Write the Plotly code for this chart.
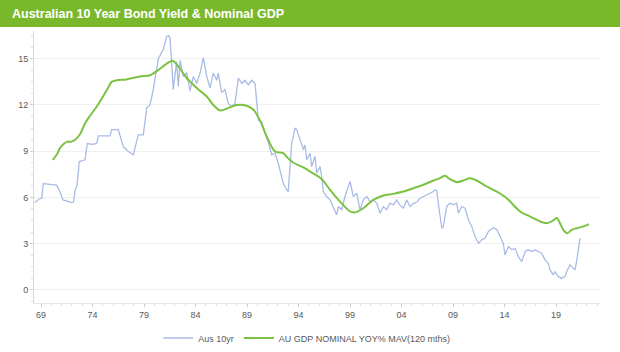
import plotly.graph_objects as go

# Aus 10yr bond yield (decimal year, %)
bond_year = [1968.42, 1968.81, 1969.07, 1969.22, 1969.87, 1970.52, 1970.75, 1971.01, 1971.14, 1971.62,
             1971.98, 1972.14, 1972.30, 1972.50, 1972.72, 1973.27, 1973.50, 1973.95, 1974.41, 1974.56,
             1975.70, 1975.86, 1976.50, 1976.77, 1976.99, 1977.45, 1977.81, 1977.96, 1978.45, 1978.93,
             1979.26, 1979.58, 1979.90, 1980.39, 1980.87, 1981.20, 1981.38, 1981.52, 1981.69, 1981.84,
             1982.17, 1982.33, 1982.50, 1982.82, 1983.15, 1983.47, 1983.79, 1984.12, 1984.44, 1984.76,
             1985.09, 1985.41, 1985.73, 1986.06, 1986.21, 1986.54, 1986.86, 1987.18, 1987.51, 1987.83,
             1988.16, 1988.49, 1988.81, 1989.13, 1989.46, 1989.78, 1990.10, 1990.43, 1990.75, 1991.07,
             1991.40, 1991.72, 1992.04, 1992.20, 1992.52, 1992.85, 1993.00, 1993.34, 1993.66, 1993.82,
             1994.15, 1994.47, 1994.63, 1994.80, 1995.12, 1995.28, 1995.60, 1995.77, 1996.09, 1996.25,
             1996.41, 1996.74, 1997.06, 1997.38, 1997.71, 1997.86, 1998.19, 1998.51, 1998.83, 1999.00,
             1999.32, 1999.65, 1999.97, 2000.29, 2000.62, 2000.94, 2001.26, 2001.59, 2001.91, 2002.24,
             2002.56, 2002.88, 2003.20, 2003.53, 2003.85, 2004.18, 2004.50, 2004.83, 2005.15, 2005.48,
             2005.80, 2006.12, 2006.45, 2006.77, 2007.10, 2007.25, 2007.42, 2007.57, 2007.74, 2007.91,
             2008.06, 2008.39, 2008.71, 2009.03, 2009.36, 2009.52, 2009.84, 2010.17, 2010.49, 2010.82,
             2011.14, 2011.47, 2011.79, 2012.11, 2012.43, 2012.92, 2013.25, 2013.57, 2013.88, 2014.05,
             2014.37, 2014.70, 2015.02, 2015.34, 2015.67, 2016.00, 2016.31, 2016.64, 2016.96, 2017.28,
             2017.61, 2017.93, 2018.25, 2018.42, 2018.74, 2018.90, 2019.22, 2019.55, 2019.87, 2020.04,
             2020.36, 2020.52, 2020.84, 2021.00, 2021.17, 2021.33]
bond_val = [5.67, 5.90, 5.95, 6.90, 6.85, 6.80, 6.50, 6.06, 5.84, 5.75,
            5.67, 5.70, 6.40, 6.80, 8.33, 8.44, 9.50, 9.45, 9.50, 10.00,
            10.00, 10.40, 10.40, 9.80, 9.30, 9.00, 8.80, 8.77, 10.06, 10.06,
            11.80, 12.00, 13.00, 15.00, 15.60, 16.45, 16.50, 16.35, 14.70, 13.00,
            14.80, 13.20, 14.90, 13.85, 14.10, 12.90, 13.85, 13.40, 14.07, 15.05,
            13.85, 13.10, 14.07, 13.60, 14.07, 12.80, 13.00, 12.10, 11.90, 12.10,
            13.75, 13.40, 13.60, 13.30, 13.60, 13.40, 11.00, 10.90, 10.17, 9.60,
            8.77, 8.87, 8.20, 7.80, 6.90, 6.50, 6.38, 9.50, 10.50, 10.40,
            9.74, 9.10, 9.40, 8.44, 8.87, 8.00, 8.66, 7.57, 8.00, 7.36,
            6.38, 6.06, 5.84, 5.41, 4.87, 5.41, 5.20, 6.06, 6.70, 7.04,
            6.06, 6.28, 5.20, 5.84, 6.06, 5.73, 5.84, 5.63, 4.98, 5.41,
            5.20, 5.63, 5.52, 5.84, 5.50, 5.30, 5.84, 5.41, 5.60, 5.70,
            5.95, 6.06, 6.17, 6.28, 6.38, 6.50, 6.45, 5.63, 4.76, 4.00,
            4.12, 5.41, 5.63, 5.52, 5.63, 4.98, 5.41, 5.30, 4.55, 4.12,
            3.46, 3.03, 3.25, 3.36, 3.79, 4.05, 3.90, 3.46, 3.03, 2.27,
            2.81, 2.60, 2.70, 2.16, 1.84, 2.49, 2.60, 2.49, 2.60, 2.49,
            2.38, 1.95, 1.73, 1.30, 0.97, 1.19, 0.86, 0.76, 0.86, 1.19,
            1.62, 1.51, 1.30, 1.84, 2.49, 3.36]

# AU GDP nominal YoY% 120-month moving average
gdp_year = [1970.14, 1970.52, 1970.84, 1971.17, 1971.52, 1971.98, 1972.30, 1972.79, 1973.27, 1973.76,
            1974.41, 1974.73, 1975.38, 1975.86, 1976.35, 1977.32, 1978.61, 1979.58, 1980.55, 1981.13,
            1981.79, 1982.33, 1983.15, 1984.12, 1985.09, 1985.73, 1986.38, 1987.18, 1988.00, 1988.97,
            1989.61, 1990.26, 1990.91, 1991.72, 1992.52, 1992.98, 1993.50, 1994.47, 1995.44, 1996.25,
            1997.06, 1998.03, 1999.00, 1999.48, 2000.29, 2001.26, 2002.24, 2003.20, 2004.18, 2005.15,
            2006.12, 2007.10, 2007.74, 2008.22, 2008.71, 2009.36, 2010.00, 2010.65, 2011.30, 2012.27,
            2013.25, 2014.22, 2015.02, 2015.50, 2016.48, 2017.45, 2018.10, 2018.58, 2019.07, 2019.39,
            2019.71, 2020.10, 2020.52, 2021.00, 2021.65, 2022.20]
gdp_val = [8.44, 8.77, 9.20, 9.45, 9.62, 9.62, 9.74, 10.10, 10.80, 11.30,
           11.90, 12.23, 12.95, 13.50, 13.60, 13.66, 13.85, 13.93, 14.35, 14.65,
           14.87, 14.50, 13.75, 13.10, 12.55, 12.00, 11.65, 11.80, 12.00, 11.95,
           11.70, 11.00, 9.95, 8.98, 8.87, 8.55, 8.25, 7.95, 7.55, 7.20,
           6.49, 5.73, 5.09, 5.03, 5.30, 5.84, 6.13, 6.23, 6.38, 6.60,
           6.82, 7.10, 7.25, 7.40, 7.18, 6.99, 7.10, 7.25, 7.10, 6.71,
           6.38, 5.95, 5.40, 5.09, 4.76, 4.44, 4.33, 4.44, 4.66, 4.33,
           3.90, 3.68, 3.90, 4.00, 4.12, 4.27]

x_tick_vals = [1969, 1974, 1979, 1984, 1989, 1994, 1999, 2004, 2009, 2014, 2019]
x_tick_text = ["69", "74", "79", "84", "89", "94", "99", "04", "09", "14", "19"]
y_tick_vals = [0, 3, 6, 9, 12, 15]

title_text = "Australian 10 Year Bond Yield & Nominal GDP"

W, H = 620, 352
ml, mr, mt, mb = 34, 20, 31, 49
pw, ph = W - ml - mr, H - mt - mb

fig = go.Figure()
fig.add_trace(go.Scatter(x=bond_year, y=bond_val, mode="lines", name="Aus 10yr",
                         line=dict(color="#a9bce6", width=1.3)))
fig.add_trace(go.Scatter(x=gdp_year, y=gdp_val, mode="lines", name="AU GDP NOMINAL YOY% MAV(120 mths)",
                         line=dict(color="#7cc242", width=2, shape="spline", smoothing=0.8)))

# green title band
fig.add_shape(type="rect", xref="paper", yref="paper",
              x0=-ml / pw, x1=(W - ml) / pw, y0=1 + (mt - 27) / ph, y1=1 + mt / ph,
              fillcolor="#7ab82b", line=dict(width=0), layer="above")
fig.add_annotation(text="<b>" + title_text + "</b>", xref="paper", yref="paper",
                   x=(10 - ml) / pw, y=1 + (mt - 14) / ph, xanchor="left", yanchor="middle",
                   showarrow=False, font=dict(family="Liberation Sans, Arial", size=12.5, color="white"))

fig.update_layout(
    width=W, height=H,
    margin=dict(l=ml, r=mr, t=mt, b=mb, autoexpand=False),
    paper_bgcolor="white", plot_bgcolor="white",
    font=dict(family="Liberation Sans, Arial", size=9, color="#595959"),
    showlegend=True,
    legend=dict(orientation="h", x=0.482, xanchor="center",
                yref="container", y=(H - 338) / H, yanchor="middle",
                font=dict(size=9, color="#595959"), itemwidth=30, tracegroupgap=0),
)
fig.update_xaxes(range=[1968.32, 2023.27], tickvals=x_tick_vals, ticktext=x_tick_text,
                 showgrid=False, zeroline=False, showline=True, linecolor="#e6e6e6", linewidth=1,
                 ticks="outside", ticklen=3, tickcolor="#cccccc",
                 minor=dict(dtick=1, ticks="outside", ticklen=2, tickcolor="#dddddd", showgrid=False),
                 tickfont=dict(size=9, color="#595959"))
fig.update_yaxes(range=[-0.85, 16.8], tickvals=y_tick_vals,
                 showgrid=True, gridcolor="#f0f0f0", gridwidth=1, zeroline=False,
                 showline=True, linecolor="#d9d9d9", linewidth=1,
                 ticks="outside", ticklen=3, tickcolor="#cccccc",
                 minor=dict(dtick=0.75, tick0=0, ticks="outside", ticklen=2, tickcolor="#dddddd", showgrid=False),
                 tickfont=dict(size=9, color="#595959"))

fig.write_html("out.html")
